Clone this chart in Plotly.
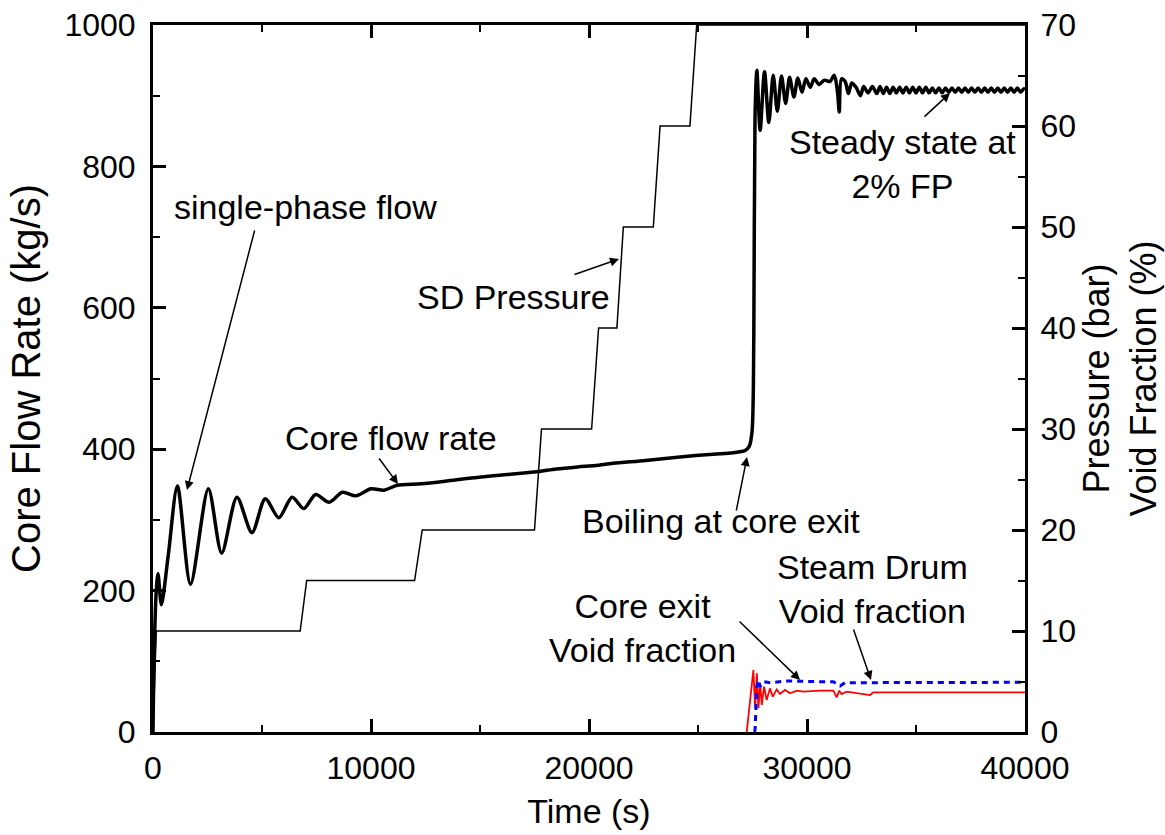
import plotly.graph_objects as go

# ---------------- data ----------------
time_core = [0, 60, 150, 230, 385, 700, 1120, 1720, 2540, 3150, 3850, 4540, 5150, 5770,
             6380, 6920, 7460, 8080, 8690, 9310, 10000, 10600, 11200, 12300, 13470, 14500,
             15500, 16500, 17600, 18500, 19500, 20300, 21100, 22600, 24170, 25700, 26600,
             27150, 27350, 27480, 27560, 27615, 27700, 27850, 28050, 28250, 28450, 28640,
             28830, 29020, 29200, 29400, 29580, 29770, 29950, 30150, 30330, 30550, 30800,
             31050, 31250, 31400, 31480, 31580, 31750, 31900, 32050, 32250, 32450, 32600,
             32800, 33000, 33200, 33350, 33500, 33650, 33800, 33950, 34100, 34250, 34400,
             34550, 34700, 34850, 35000, 35150, 35300, 35450, 35600, 35750, 35900, 36050,
             36200, 36350, 36500, 36650, 36800, 36950, 37100, 37250, 37400, 37550, 37700,
             37850, 38000, 38150, 38300, 38450, 38600, 38750, 38900, 39050, 39200, 39350,
             39500, 39650, 39800, 39950, 40000]
core_flow = [0, 120, 200, 224, 180, 250, 348, 209, 344, 253, 332, 282, 330, 303,
             332, 316, 336, 325, 339, 334, 344, 342, 349, 351, 355, 359,
             362, 365, 368, 372, 375, 377, 380, 384, 389, 393, 395,
             398, 404, 425, 560, 870, 936, 851, 934, 862, 929, 878,
             928, 889, 926, 898, 925, 905, 924, 912, 924, 916, 922,
             920, 929, 905, 877, 924, 920, 903, 918, 912, 900, 913,
             904, 913, 903, 913, 903, 912, 903, 912, 904, 912, 904,
             912, 904, 912, 904, 912, 904, 912, 904, 911, 904, 911,
             904, 911, 905, 911, 905, 911, 905, 911, 905, 911, 905,
             911, 905, 911, 905, 911, 905, 911, 905, 911, 905, 911,
             905, 911, 905, 910, 908]

time_sd = [0, 150, 6750, 7050, 12000, 12350, 17500, 17820, 20120, 20440, 21280, 21575,
           22950, 23260, 24630, 24940, 40000]
sd_pressure = [0, 10, 10, 15, 15, 20, 20, 30, 30, 40, 40, 50, 50, 60, 60, 70, 70]

time_core_void = [27235, 27540, 27620, 27700, 27770, 27850, 27925, 28030, 28150, 28300,
                  28430, 28610, 28760, 28990, 29220, 29530, 29830, 30600, 31210, 31360,
                  31480, 31590, 31820, 32890, 33040, 40000]
core_void = [0, 6.14, 2.35, 5.81, 2.35, 4.82, 2.67, 4.49, 3.17, 4.32,
             3.5, 4.22, 3.76, 4.16, 3.83, 4.09, 3.99, 4.09, 4.09, 3.43,
             4.09, 3.76, 3.99, 3.66, 3.93, 3.93]

time_sd_void = [27600, 27620, 27700, 27770, 27850, 28000, 28300, 29070, 30600, 31210,
                31520, 31740, 39770, 40000]
sd_void = [0, 0.36, 4.49, 5.15, 4.49, 4.98, 4.88, 5.05, 4.98, 4.98,
           4.55, 4.88, 4.92, 4.85]

# ---------------- layout helpers ----------------
FONT = "Liberation Sans, Arial, sans-serif"
L, R, T, B = 153, 1025, 25, 732


def P(px, py):
    return ((px - L) / (R - L) * 40000, (B - py) / (B - T) * 1000)


fig = go.Figure()
fig.add_trace(go.Scatter(x=time_sd, y=sd_pressure, yaxis="y2", mode="lines",
                         line=dict(color="black", width=1.5), name="SD Pressure"))
fig.add_trace(go.Scatter(x=time_core, y=core_flow, mode="lines",
                         line=dict(color="black", width=3.5, shape="spline", smoothing=0.8),
                         name="Core flow rate"))
fig.add_trace(go.Scatter(x=time_core_void, y=core_void, yaxis="y2", mode="lines",
                         line=dict(color="red", width=1.8), name="Core exit void"))
fig.add_trace(go.Scatter(x=time_sd_void, y=sd_void, yaxis="y2", mode="lines",
                         line=dict(color="blue", width=3, dash="6px,5px"),
                         name="Steam drum void"))

annots = []
texts = [
    ("single-phase flow", 305, 207),
    ("Core flow rate", 391, 438),
    ("SD Pressure", 513, 297),
    ("Boiling at core exit", 721, 521),
    ("Steady state at<br>2% FP", 902, 164),
    ("Steam Drum<br>Void fraction", 872, 589),
    ("Core exit<br>Void fraction", 642, 628),
]
for txt, px, py in texts:
    x, y = P(px, py)
    annots.append(dict(x=x, y=y, xref="x", yref="y", text=txt, showarrow=False,
                       xanchor="center", yanchor="middle", align="center",
                       font=dict(family=FONT, size=34, color="black")))

arrows = [
    ((255, 229), (187, 490)),
    ((378, 457), (398, 484)),
    ((573, 275), (619, 259)),
    ((736, 512), (747, 457)),
    ((923, 118), (950, 93)),
    ((853, 628), (871, 680)),
    ((738, 620), (800, 680)),
]
for (tx, ty), (hx, hy) in arrows:
    ax, ay = P(tx, ty)
    x, y = P(hx, hy)
    annots.append(dict(x=x, y=y, ax=ax, ay=ay, xref="x", yref="y", axref="x", ayref="y",
                       text="", showarrow=True, arrowhead=2, arrowsize=1.2, arrowwidth=1.5,
                       arrowcolor="black", standoff=0, startstandoff=0))

axis_common = dict(showline=True, linecolor="black", linewidth=3, ticks="inside",
                   ticklen=13, tickwidth=2.5, tickcolor="black", showgrid=False,
                   zeroline=False, tickformat="d",
                   tickfont=dict(family=FONT, size=32, color="black"))

fig.update_layout(
    width=1165, height=835,
    margin=dict(l=L, r=1165 - R, t=T, b=835 - B, autoexpand=False),
    paper_bgcolor="white", plot_bgcolor="white",
    showlegend=False,
    annotations=annots,
    xaxis=dict(range=[0, 40000], dtick=10000, tick0=0, mirror="ticks",
               minor=dict(dtick=5000, ticks="inside", ticklen=7, tickwidth=2,
                          tickcolor="black", showgrid=False),
               ticklabelstandoff=6,
               title=dict(text="Time (s)", standoff=14,
                          font=dict(family=FONT, size=34, color="black")),
               **axis_common),
    yaxis=dict(range=[0, 1000], dtick=200, tick0=0,
               minor=dict(dtick=100, ticks="inside", ticklen=7, tickwidth=2,
                          tickcolor="black", showgrid=False),
               ticklabelstandoff=8,
               title=dict(text="Core Flow Rate (kg/s)", standoff=12,
                          font=dict(family=FONT, size=40, color="black")),
               **axis_common),
    yaxis2=dict(range=[0, 70], dtick=10, tick0=0, overlaying="y", side="right",
                minor=dict(dtick=5, ticks="inside", ticklen=7, tickwidth=2,
                           tickcolor="black", showgrid=False),
                ticklabelstandoff=6,
                title=dict(text="Pressure (bar)<br>Void Fraction (%)", standoff=6,
                           font=dict(family=FONT, size=36, color="black")),
                **axis_common),
)

fig.write_html("out.html")
